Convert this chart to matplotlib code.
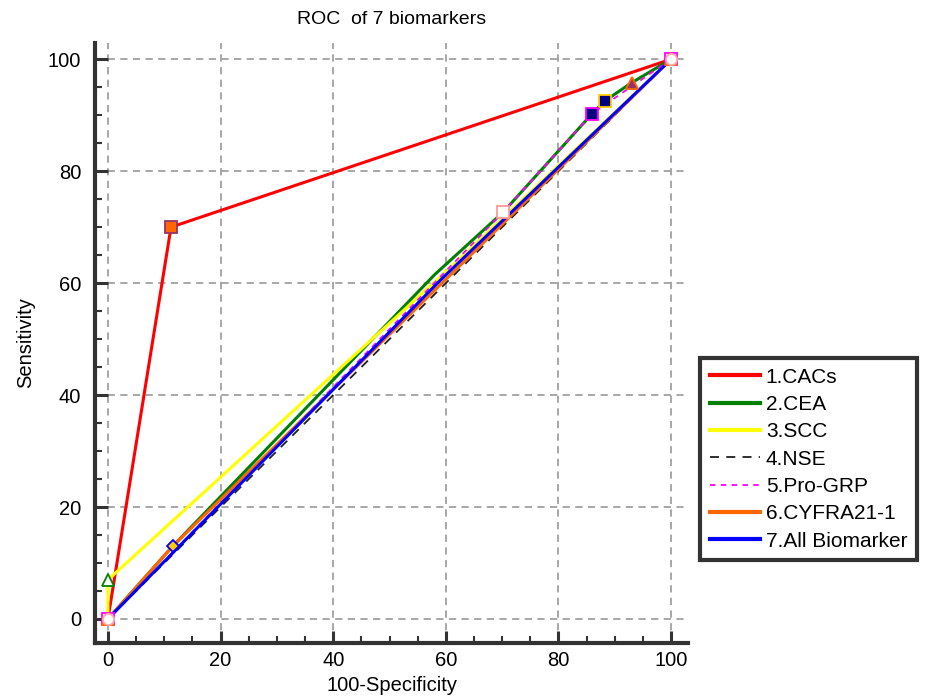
import numpy as np
import matplotlib
matplotlib.use("Agg")
import matplotlib.pyplot as plt

plt.rcParams['font.family'] = ['Liberation Sans', 'DejaVu Sans']

# %% ROC points (100-Specificity, Sensitivity) for each marker
names = ['1.CACs', '2.CEA', '3.SCC', '4.NSE', '5.Pro-GRP', '6.CYFRA21-1', '7.All Biomarker']

cacs_x = [0, 11.2, 100]
cacs_y = [0, 70, 100]

cea_x = [0, 11.5, 58, 70.2, 86, 88.3, 93, 100]
cea_y = [0, 13, 61.5, 72.7, 90.3, 92.6, 95.8, 100]

scc_x = [0, 0, 60, 100]
scc_y = [0, 7, 62, 100]

nse_x = [0, 100]
nse_y = [0, 100]

grp_x = [0, 70.2, 86, 100]
grp_y = [0, 72.7, 90.3, 100]

cyfra_x = [0, 11.5, 100]
cyfra_y = [0, 13, 100]

all_x = [0, 59, 100]
all_y = [0, 60.5, 100]

# %% Styles
colors = ['#ff0000', '#008000', '#ffff00', '#202020', '#ff00ff', '#ff6600', '#0000ff']
styles = ['-', '-', '-', (0, (5, 4)), (0, (3, 3)), '-', '-']

# marker points: (series, point index, marker, face, edge)
marks = [
    (0, 1, 's', '#ff6600', '#993366'),
    (1, 5, 's', '#000080', '#ffcc00'),
    (1, 6, '^', '#993366', '#ff6600'),
    (2, 1, '^', 'white', '#008000'),
    (4, 1, 's', 'white', '#ff9999'),
    (4, 2, 's', '#000080', '#ff00ff'),
    (4, 0, 's', 'white', '#ff00ff'),
    (4, 3, 's', 'white', '#ff00ff'),
    (5, 1, 'D', '#ffcc00', '#0000ff'),
    (5, 0, '^', 'white', '#ff6600'),
    (5, 2, '^', 'white', '#ff6600'),
    (6, 0, 'o', 'white', '#ffaaaa'),
    (6, 2, 'o', 'white', '#ffaaaa'),
]

xs = [cacs_x, cea_x, scc_x, nse_x, grp_x, cyfra_x, all_x]
ys = [cacs_y, cea_y, scc_y, nse_y, grp_y, cyfra_y, all_y]

FS = 14.5

# %% Figure
fig = plt.figure(figsize=(9.25, 7.0), dpi=100)
ax = fig.add_axes([0.1027, 0.0814, 0.6411, 0.8572])

for i in range(len(names)):
    ax.plot(xs[i], ys[i], color=colors[i], linestyle=styles[i],
            lw=2.2 if styles[i] == '-' else 1.3, label=names[i], zorder=3 + i)

for s, k, m, fc, ec in marks:
    ax.plot(xs[s][k], ys[s][k], marker=m, ms=8 if m != 'D' else 6,
            mfc=fc, mec=ec, mew=1.3, zorder=20)

ax.set_xlim(-2.3, 103)
ax.set_ylim(-4.3, 102.9)
ax.set_xticks(np.arange(0, 101, 20))
ax.set_yticks(np.arange(0, 101, 20))
ax.set_xticks(np.arange(0, 101, 5), minor=True)
ax.set_yticks(np.arange(0, 101, 5), minor=True)
ax.tick_params(which='major', direction='in', length=9, width=2.2, color='#333333',
               labelsize=FS)
ax.tick_params(axis='y', which='major', pad=10)
ax.tick_params(axis='x', which='major', pad=6)
ax.tick_params(which='minor', direction='in', length=5, width=1.5, color='#333333')

for side in ['top', 'right']:
    ax.spines[side].set_visible(False)
for side in ['left', 'bottom']:
    ax.spines[side].set_linewidth(3)
    ax.spines[side].set_color('#333333')

ax.grid(True, which='major', color='#a0a0a0', linestyle=(0, (4, 3)), lw=1.3)
ax.set_axisbelow(True)

ax.set_title('ROC  of 7 biomarkers', fontsize=14, pad=14)
ax.set_xlabel('100-Specificity', fontsize=FS, labelpad=4)
ax.set_ylabel('Sensitivity', fontsize=FS, labelpad=9)

leg = fig.legend(loc='upper left', bbox_to_anchor=(0.757, 0.488), borderaxespad=0,
                 fontsize=15, handlelength=2.4, handletextpad=0.3, labelspacing=0.4,
                 fancybox=False, framealpha=1, borderpad=0.45)
leg.get_frame().set_edgecolor('#333333')
leg.get_frame().set_linewidth(3)
for line in leg.get_lines():
    if line.get_linestyle() == '-':
        line.set_linewidth(3)

fig.savefig('out.png', dpi=100)
